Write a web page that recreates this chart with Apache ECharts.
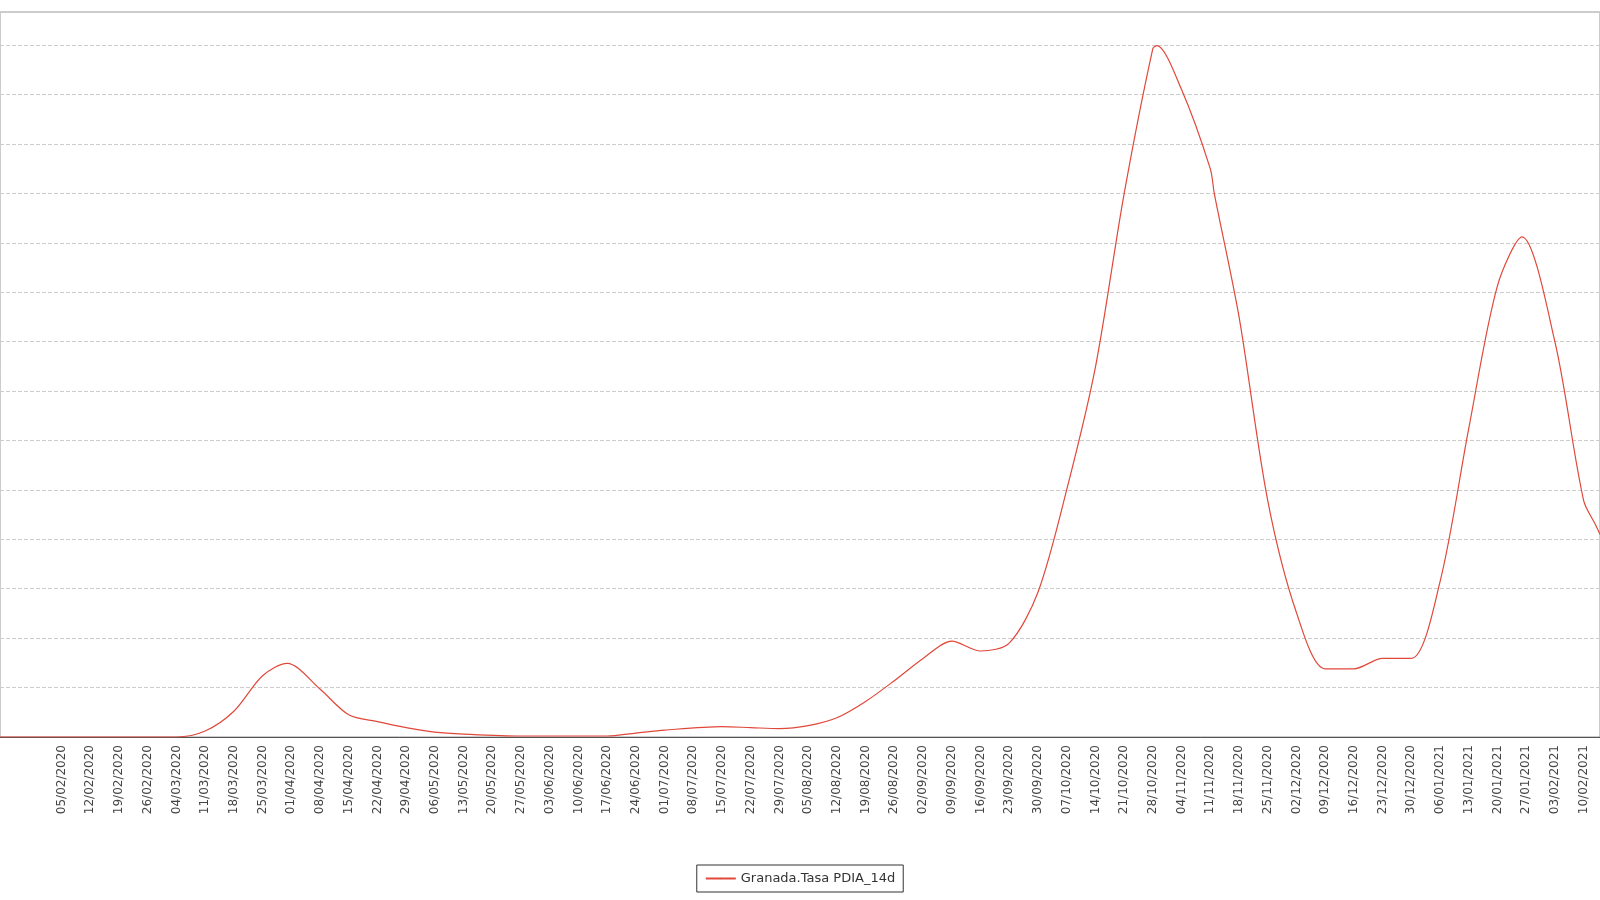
<!DOCTYPE html>
<html>
<head>
<meta charset="utf-8">
<script src="https://cdn.jsdelivr.net/npm/echarts@6/dist/echarts.min.js"></script>
<style>html,body{margin:0;background:#fff}#chart{width:1600px;height:900px}</style>
</head>
<body>
<div id="chart"></div>
<script>
// readings: day/month/year and the 14-day rate
const pointDates = ['21/01/2020','04/03/2020','11/03/2020','18/03/2020','25/03/2020','31/03/2020','08/04/2020','15/04/2020','22/04/2020','29/04/2020','06/05/2020','13/05/2020','27/05/2020','17/06/2020','24/06/2020','01/07/2020','15/07/2020','22/07/2020','29/07/2020','05/08/2020','12/08/2020','19/08/2020','26/08/2020','02/09/2020','09/09/2020','16/09/2020','23/09/2020','30/09/2020','07/10/2020','14/10/2020','21/10/2020','28/10/2020','29/10/2020','04/11/2020','11/11/2020','12/11/2020','18/11/2020','25/11/2020','02/12/2020','09/12/2020','16/12/2020','23/12/2020','30/12/2020','06/01/2021','13/01/2021','20/01/2021','26/01/2021','03/02/2021','10/02/2021','13/02/2021','14/02/2021'];
const pointValues = [0,0,12,52,124,149,97,45,31,19,10,6,2,2,8,14,21,19,17,23,39,72,114,159,194,174,190,293,500,748,1099,1393,1399,1310,1150,1099,851,479,252,138,138,159,159,314,624,913,1012,800,479,428,410];
const seriesName = 'Granada.Tasa PDIA_14d';

const fmt = d => String(d.getDate()).padStart(2,'0') + '/' + String(d.getMonth()+1).padStart(2,'0') + '/' + d.getFullYear();
const days = [];
for (let d = new Date(2020,0,21); d <= new Date(2021,1,14); d.setDate(d.getDate()+1)) days.push(fmt(d));
const values = days.map(() => null);
pointDates.forEach((d, i) => { values[days.indexOf(d)] = pointValues[i]; });

const chart = echarts.init(document.getElementById('chart'));
chart.setOption({
    animation: false,
    grid: {left: 0, right: 0, top: 12, bottom: 163, show: true, borderColor: '#999', borderWidth: 1},
    legend: {
        bottom: 8, left: 'center', itemWidth: 30, itemHeight: 2,
        borderColor: '#333', borderWidth: 1, padding: [7, 8],
        textStyle: {fontFamily: 'DejaVu Sans', fontSize: 13, color: '#333'}
    },
    xAxis: {
        type: 'category', data: days, boundaryGap: false,
        axisLine: {lineStyle: {color: '#555'}},
        axisTick: {show: false},
        axisLabel: {
            rotate: 90, fontFamily: 'DejaVu Sans', fontSize: 12, color: '#444',
            interval: i => i >= 15 && (i - 15) % 7 === 0
        }
    },
    yAxis: {
        type: 'value', min: 0, max: 1467, interval: 100,
        axisLabel: {show: false}, axisTick: {show: false}, axisLine: {show: false},
        splitLine: {lineStyle: {color: '#ccc', type: 'dashed'}}
    },
    series: [{
        name: seriesName, type: 'line', data: values, connectNulls: true,
        smooth: 0.3, showSymbol: false, symbol: 'none',
        lineStyle: {color: '#e0483a', width: 1.2}, itemStyle: {color: '#e0483a'}
    }]
});
</script>
</body>
</html>
